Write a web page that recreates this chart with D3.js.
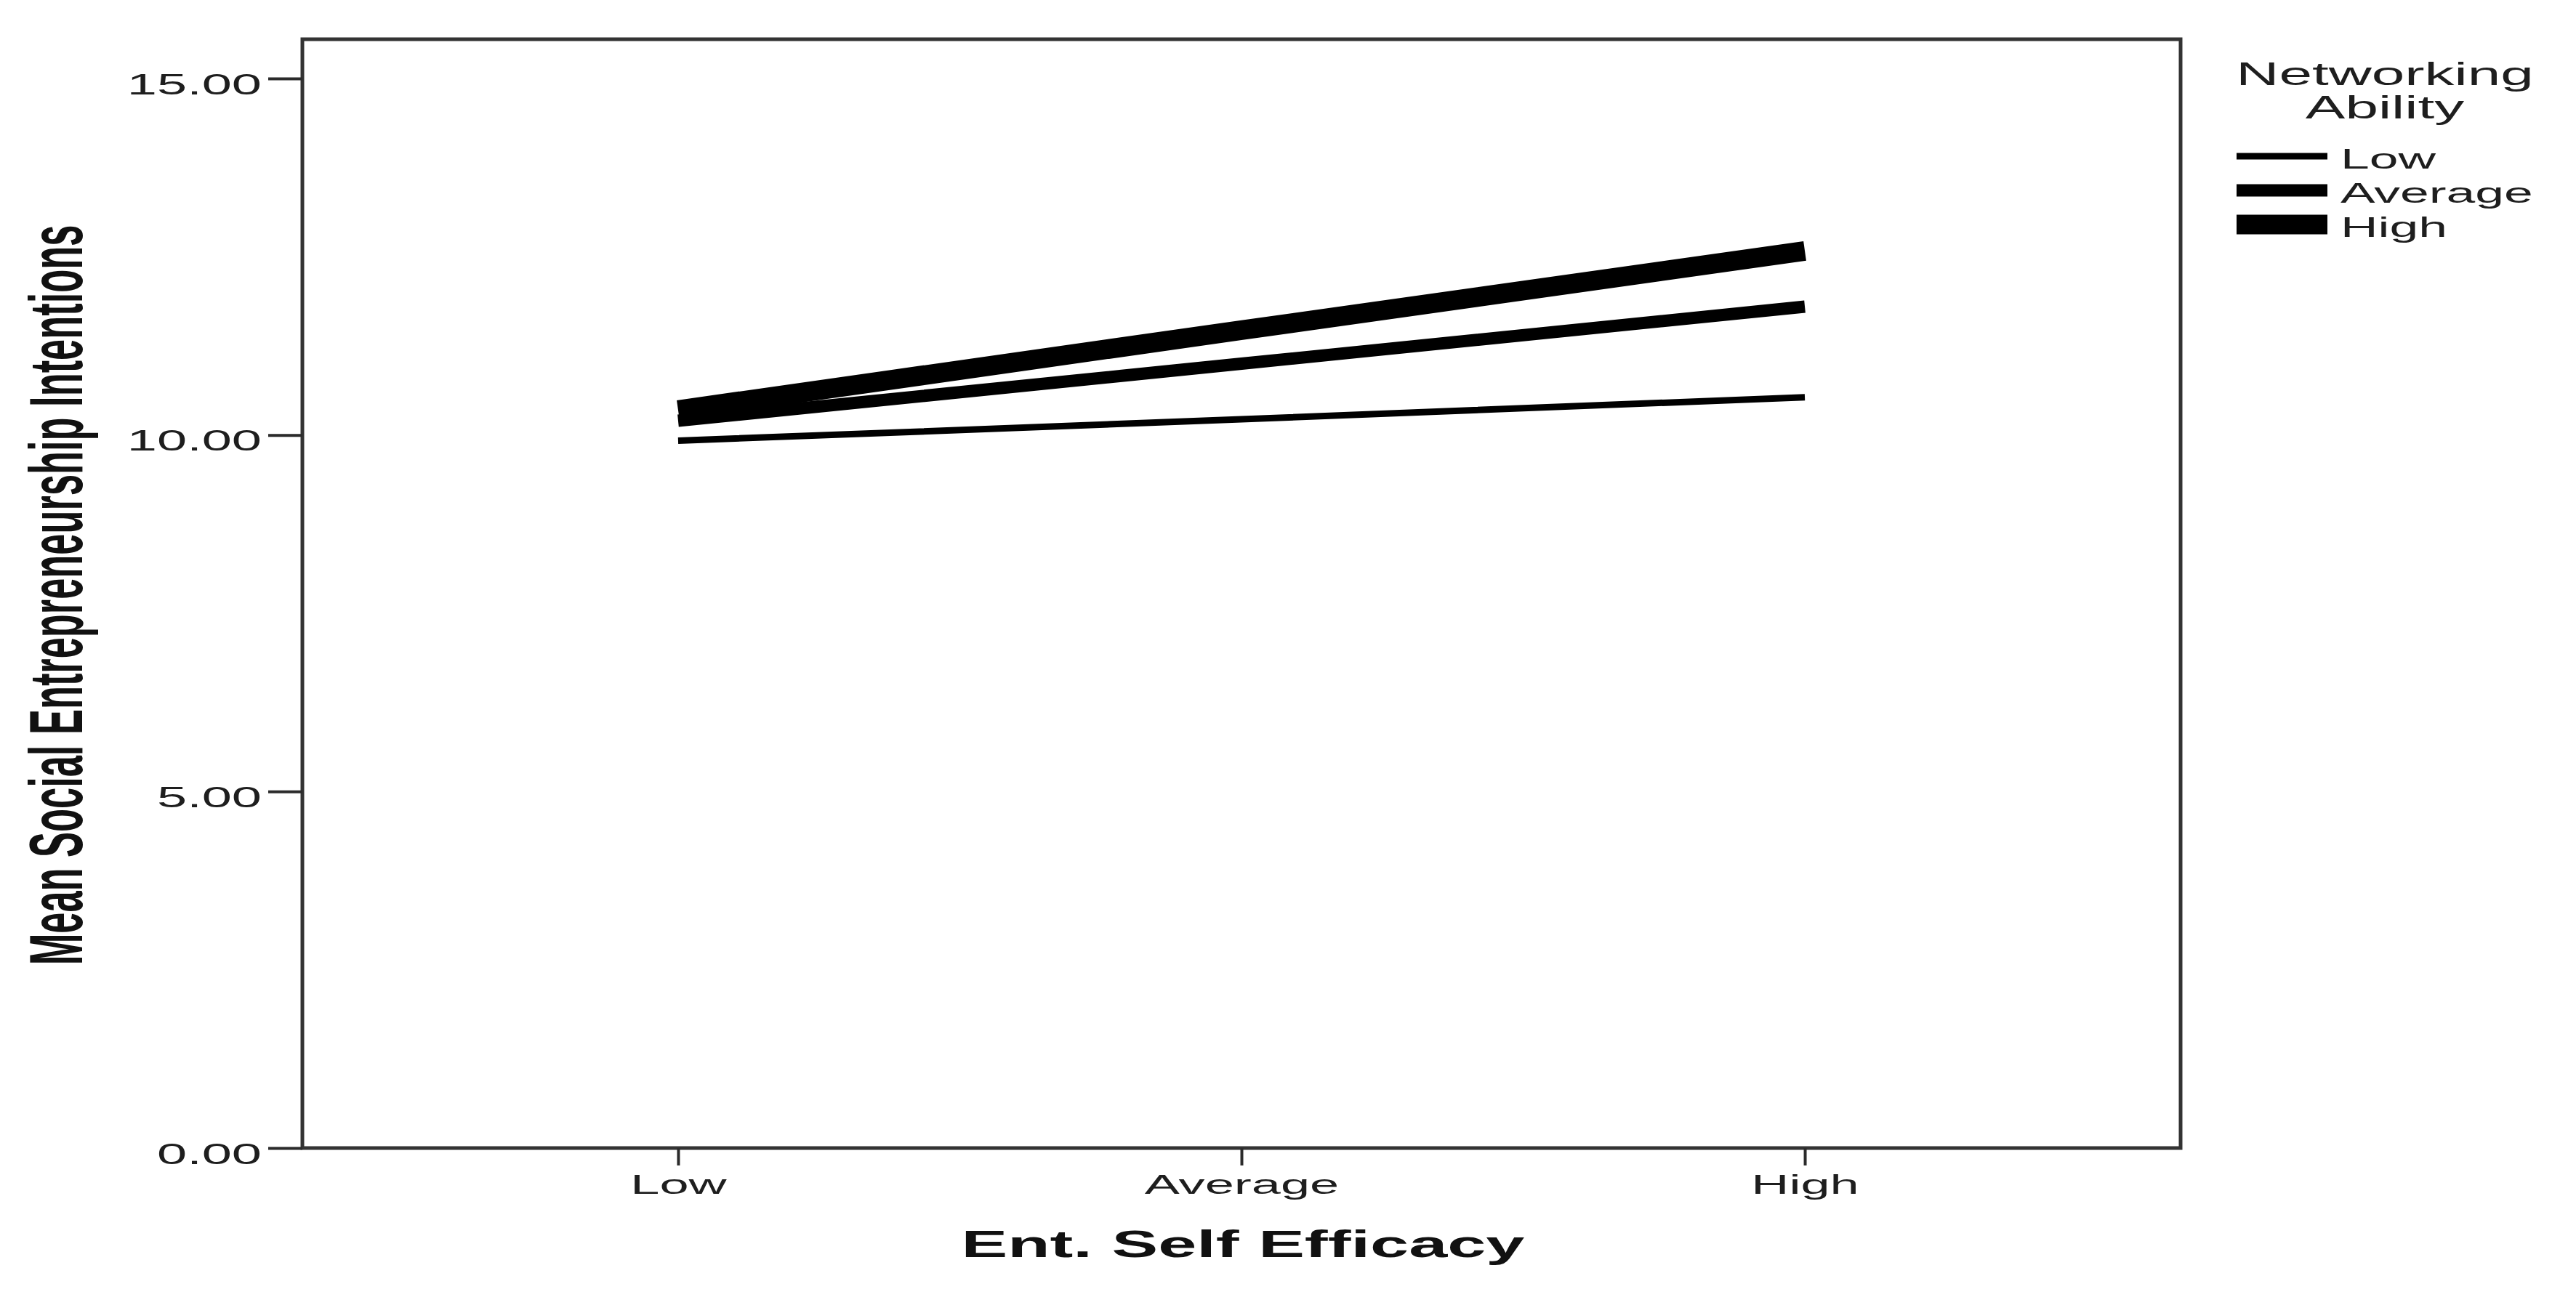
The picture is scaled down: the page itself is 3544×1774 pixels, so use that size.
<!DOCTYPE html>
<html lang="en">
<head>
<meta charset="utf-8" />
<title>Ent. Self Efficacy x Networking Ability</title>
<script src="https://cdn.jsdelivr.net/npm/d3@7"></script>
<style>
body {
  margin: 0;
  background: #fff;
}
svg {
  display: block;
  font-family: 'Liberation Sans', Arial, sans-serif;
}
.axis path { display: none; }
.axis line { stroke: #2b2b2b; stroke-width: 4; }
.axis text { fill: #1e1e1e; }
</style>
</head>
<body>
<svg id="chart" width="3544" height="1774"></svg>
<script>
// x categories (Ent. Self Efficacy) and the moderator groups
var efficacy = ['Low', 'Average', 'High'];
var networking = ['Low', 'Average', 'High'];

// mean social entrepreneurship intentions
var lowNet = [9.92, 10.22, 10.53];
var averageNet = [10.20, 11.00, 11.80];
var highNet = [10.35, 11.47, 12.58];

var yTicks = [0, 5, 10, 15];

var series = [
  { name: networking[0], values: lowNet },
  { name: networking[1], values: averageNet },
  { name: networking[2], values: highNet }
];
var widths = { Low: 9, Average: 17, High: 27 };

var plotLeft = 416, plotRight = 3000, plotTop = 54, plotBottom = 1580;

var svg = d3.select('#chart');

var x = d3.scalePoint()
  .domain(efficacy)
  .range([plotLeft, plotRight])
  .padding(0.667);

var y = d3.scaleLinear()
  .domain([0, 15])
  .range([plotBottom, 108]);

// the source picture is stretched sideways, so stretch the text too
function stretch(sel, k) {
  sel.each(function () {
    var len = this.getComputedTextLength();
    d3.select(this)
      .attr('textLength', len * k)
      .attr('lengthAdjust', 'spacingAndGlyphs');
  });
}

// frame
svg.append('rect')
  .attr('x', plotLeft)
  .attr('y', plotTop)
  .attr('width', plotRight - plotLeft)
  .attr('height', plotBottom - plotTop)
  .attr('fill', 'none')
  .attr('stroke', '#333')
  .attr('stroke-width', 5);

var yAxis = svg.append('g')
  .attr('class', 'axis')
  .attr('transform', `translate(${plotLeft},0)`)
  .call(d3.axisLeft(y)
    .tickValues(yTicks)
    .tickSize(47)
    .tickPadding(9)
    .tickFormat(d3.format('.2f')));

yAxis.selectAll('text')
  .attr('font-size', 40)
  .attr('dy', 21);
stretch(yAxis.selectAll('text'), 1.85);

var xAxis = svg.append('g')
  .attr('class', 'axis')
  .attr('transform', `translate(0,${plotBottom})`)
  .call(d3.axisBottom(x)
    .tickSize(24)
    .tickPadding(0));

xAxis.selectAll('text')
  .attr('font-size', 37)
  .attr('dy', 0)
  .attr('y', 63);
stretch(xAxis.selectAll('text'), 1.95);

// lines
var line = d3.line()
  .x((d, i) => x(efficacy[i]))
  .y((d) => y(d));

svg.append('g')
  .selectAll('path')
  .data(series)
  .enter()
  .append('path')
  .attr('d', (s) => line(s.values))
  .attr('fill', 'none')
  .attr('stroke', '#000')
  .attr('stroke-width', (s) => widths[s.name]);

// axis titles
svg.append('text')
  .attr('x', 1710)
  .attr('y', 1730)
  .attr('text-anchor', 'middle')
  .attr('font-size', 52)
  .attr('font-weight', 'bold')
  .attr('fill', '#111')
  .attr('textLength', 775)
  .attr('lengthAdjust', 'spacingAndGlyphs')
  .text('Ent. Self Efficacy');

// y title: size it so it runs 1019px long, then widen the glyphs sideways
var yTitle = svg.append('text')
  .attr('text-anchor', 'middle')
  .attr('font-size', 100)
  .attr('font-weight', 'bold')
  .attr('fill', '#111')
  .text('Mean Social Entrepreneurship Intentions');
var fs = 100 * 1019 / yTitle.node().getComputedTextLength();
var sx = 75 / (0.716 * fs);
yTitle.attr('font-size', fs)
  .attr('transform', `translate(113,819) scale(${sx},1) rotate(-90)`);

// legend
var legend = svg.append('g');

var lt = legend.selectAll('.ltitle')
  .data(['Networking', 'Ability'])
  .enter()
  .append('text')
  .attr('class', 'ltitle')
  .attr('x', 3281)
  .attr('y', (d, i) => 117 + i * 46)
  .attr('text-anchor', 'middle')
  .attr('font-size', 44)
  .attr('fill', '#1e1e1e')
  .text((d) => d);
stretch(lt, 1.86);

var items = legend.selectAll('.item')
  .data(series)
  .enter()
  .append('g')
  .attr('class', 'item')
  .attr('transform', (d, i) => `translate(0,${215 + i * 47})`);

items.append('line')
  .attr('x1', 3077)
  .attr('x2', 3202)
  .attr('stroke', '#000')
  .attr('stroke-width', (s) => widths[s.name]);

var lab = items.append('text')
  .attr('x', 3220)
  .attr('y', 17)
  .attr('font-size', 38)
  .attr('fill', '#1e1e1e')
  .text((s) => s.name);
stretch(lab, 1.88);
</script>
</body>
</html>
